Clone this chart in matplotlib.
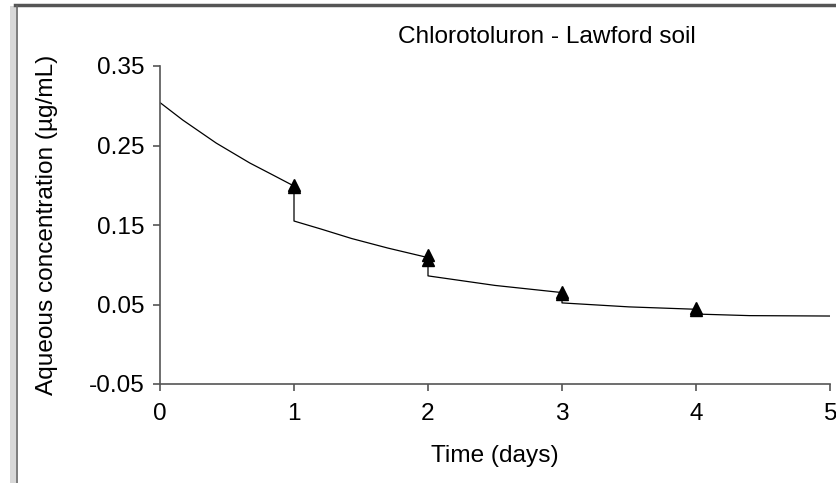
import matplotlib.pyplot as plt
from matplotlib.lines import Line2D
from matplotlib.patches import Rectangle

plt.rcParams['font.family'] = ['Liberation Sans', 'DejaVu Sans']

# fitted model curve (drops at each sampling/desorption step)
model_t = [0, 0.17, 0.42, 0.67, 0.83, 1.0, 1.0, 1.2, 1.43, 1.7, 2.0, 2.0, 2.5, 3.0,
           3.0, 3.5, 4.0, 4.0, 4.4, 5.0]
model_c = [0.304, 0.282, 0.253, 0.228, 0.214, 0.199, 0.155, 0.145, 0.133, 0.121, 0.109,
           0.086, 0.074, 0.065, 0.052, 0.047, 0.044, 0.038, 0.036, 0.0355]

# measured aqueous concentrations
obs_t = [1, 1, 2, 2, 3, 3, 4, 4]
obs_c = [0.200, 0.198, 0.112, 0.106, 0.066, 0.063, 0.045, 0.043]

xticks = [0, 1, 2, 3, 4, 5]
yticks = [-0.05, 0.05, 0.15, 0.25, 0.35]

fs = 17.6

fig = plt.figure(figsize=(8.36, 4.83), dpi=100)
ax = fig.add_axes([160 / 836, 1 - 384 / 483, 670 / 836, 318 / 483])

ax.plot(model_t, model_c, color='black', lw=0.9)
ax.plot(obs_t, obs_c, '^', color='black', ms=8, ls='none')

ax.set_xlim(0, 5)
ax.set_ylim(-0.05, 0.35)
ax.set_xticks(xticks)
ax.set_yticks(yticks)
ax.set_xticklabels([str(v) for v in xticks])
ax.set_yticklabels(['%.2f' % v for v in yticks])

for s in ['top', 'right']:
    ax.spines[s].set_visible(False)
for s in ['left', 'bottom']:
    ax.spines[s].set_color('#555555')
    ax.spines[s].set_linewidth(1.2)
ax.tick_params(direction='out', length=5, width=1.2, color='#555555',
               labelsize=fs, pad=6)
ax.tick_params(axis='x', pad=9)

ax.set_xlabel('Time (days)', fontsize=fs, labelpad=14)
ax.set_ylabel('Aqueous concentration (µg/mL)', fontsize=fs, labelpad=22)
fig.text(547 / 836, 1 - 37 / 483, 'Chlorotoluron - Lawford soil', fontsize=fs,
         ha='center', va='center')

# window frame around the plot
fig.add_artist(Line2D([15 / 836, 1], [1 - 5 / 483, 1 - 5 / 483], color='#555555', lw=2.5))
fig.add_artist(Rectangle((10 / 836, 0), 6 / 836, 1 - 6 / 483, facecolor='#d8d8d8',
                         edgecolor='none'))
fig.add_artist(Line2D([17 / 836, 17 / 836], [0, 1 - 6 / 483], color='#666666', lw=1.2))

fig.savefig('out.png', dpi=100)
